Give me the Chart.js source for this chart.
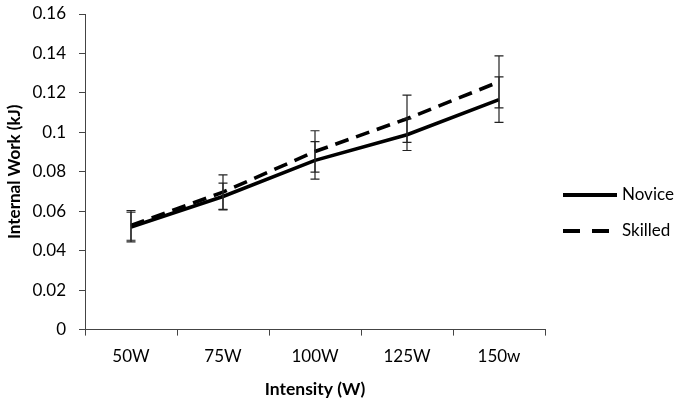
<!DOCTYPE html>
<html>
<head>
<meta charset="utf-8">
<script src="https://cdn.jsdelivr.net/npm/chart.js@4/dist/chart.umd.min.js"></script>
<style>
html,body{margin:0;padding:0;background:#fff;}
#wrap{width:693px;height:406px;position:relative;}
</style>
</head>
<body>
<div id="wrap"><canvas id="c" width="693" height="406"></canvas></div>
<script>
const categories = ['50W', '75W', '100W', '125W', '150w'];
const seriesNames = ['Novice', 'Skilled'];
const novice = [0.052, 0.0675, 0.0858, 0.0988, 0.1166];
const noviceErr = [0.0075, 0.0068, 0.0095, 0.0080, 0.0115];
const skilled = [0.0528, 0.0697, 0.0903, 0.1069, 0.1256];
const skilledErr = [0.0075, 0.0087, 0.0105, 0.0120, 0.0132];
const yTicks = [0, 0.02, 0.04, 0.06, 0.08, 0.1, 0.12, 0.14, 0.16];

const FONT = 'Lato, "Open Sans", sans-serif';

const errorBars = {
  id: 'errorBars',
  afterDatasetsDraw(chart) {
    const ctx = chart.ctx;
    const xs = chart.scales.x, ys = chart.scales.y;
    const errs = [noviceErr, skilledErr];
    ctx.save();
    ctx.strokeStyle = '#222';
    ctx.lineWidth = 1.2;
    chart.data.datasets.forEach((ds, di) => {
      ds.data.forEach((v, i) => {
        const e = errs[di][i];
        const x = xs.getPixelForValue(i);
        const yt = ys.getPixelForValue(v + e);
        const yb = ys.getPixelForValue(v - e);
        ctx.beginPath();
        ctx.moveTo(x, yt); ctx.lineTo(x, yb);
        ctx.moveTo(x - 4.5, yt); ctx.lineTo(x + 4.5, yt);
        ctx.moveTo(x - 4.5, yb); ctx.lineTo(x + 4.5, yb);
        ctx.stroke();
      });
    });
    ctx.restore();
  }
};

const sideLegend = {
  id: 'sideLegend',
  afterDraw(chart) {
    const ctx = chart.ctx;
    const a = chart.chartArea;
    const x0 = a.right + 18;
    const ys = [chart.height / 2 - 8, chart.height / 2 + 28];
    const dashes = [[], [17, 12]];
    ctx.save();
    chart.data.datasets.forEach((ds, i) => {
      ctx.beginPath();
      ctx.setLineDash(dashes[i]);
      ctx.lineWidth = 4;
      ctx.strokeStyle = '#000';
      ctx.moveTo(x0, ys[i]);
      ctx.lineTo(x0 + 54, ys[i]);
      ctx.stroke();
      ctx.setLineDash([]);
      ctx.fillStyle = '#000';
      ctx.font = '17px ' + FONT;
      ctx.textAlign = 'left';
      ctx.textBaseline = 'middle';
      ctx.fillText(ds.label, x0 + 59, ys[i]);
    });
    ctx.restore();
  }
};

new Chart(document.getElementById('c'), {
  type: 'line',
  data: {
    labels: categories,
    datasets: [
      { label: seriesNames[0], data: novice, borderColor: '#000', backgroundColor: '#000', borderWidth: 3.6, pointRadius: 0, tension: 0 },
      { label: seriesNames[1], data: skilled, borderColor: '#000', backgroundColor: '#000', borderWidth: 3.6, borderDash: [14, 8], pointRadius: 0, tension: 0 }
    ]
  },
  options: {
    responsive: false,
    animation: false,
    devicePixelRatio: 1,
    layout: { padding: { left: 0, right: 148, top: 4, bottom: 6 } },
    plugins: {
      legend: { display: false },
      tooltip: { enabled: false }
    },
    scales: {
      x: {
        offset: true,
        grid: { display: true, drawOnChartArea: false, offset: true, color: '#444', tickLength: 6, tickColor: '#444' },
        border: { color: '#444', width: 1 },
        ticks: { color: '#000', font: { family: FONT, size: 17 }, padding: 11 },
        title: { display: true, text: 'Intensity (W)', color: '#000', font: { family: FONT, size: 17.5, weight: 'bold' }, padding: { top: 1, bottom: 0 } }
      },
      y: {
        min: 0, max: 0.16,
        afterBuildTicks(axis) { axis.ticks = yTicks.map(v => ({ value: v })); },
        afterFit(s) { s.width = 85; s.paddingTop = 14; s.paddingBottom = 10; },
        grid: { display: true, drawOnChartArea: false, color: '#444', tickLength: 6, tickColor: '#444' },
        border: { color: '#444', width: 1 },
        ticks: { color: '#000', font: { family: FONT, size: 17 }, padding: 13, callback: v => String(+Number(v).toFixed(2)) },
        title: { display: true, text: 'Internal Work (kJ)', color: '#000', font: { family: FONT, size: 17, weight: 'bold' }, padding: { top: 4, bottom: 0 } }
      }
    }
  },
  plugins: [errorBars, sideLegend]
});
</script>
</body>
</html>
